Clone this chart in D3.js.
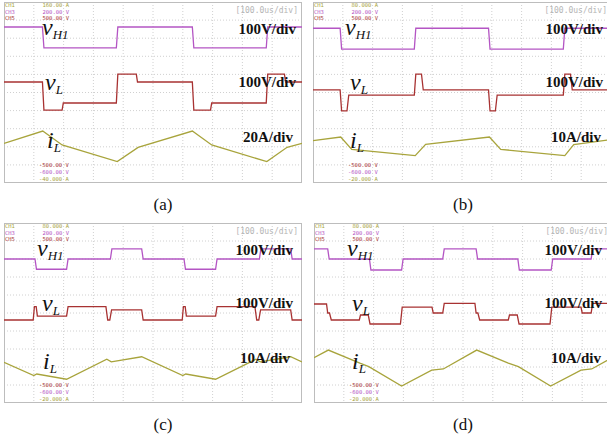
<!DOCTYPE html>
<html>
<head>
<meta charset="utf-8">
<script src="https://cdn.jsdelivr.net/npm/d3@7"></script>
<style>
  body { margin: 0; background: #fff; }
  #chart { width: 607px; height: 440px; }
</style>
</head>
<body>
<div id="chart"></div>
<script>

// waveforms: [time in us, level in divisions from bottom of screen]
const vH1A = [[0,8.62],[129,8.62],[134,7.46],[377,7.46],[382,8.62],[632,8.62],[637,7.46],[880,7.46],[885,8.62],[1000,8.62]]
const vLA = [[0,5.58],[129,5.58],[134,4.03],[195,4.03],[199,4.42],[377,4.42],[382,6.02],[444,6.02],[448,5.58],[632,5.58],[637,4.03],[693,4.03],[697,4.42],[880,4.42],[885,6.02],[941,6.02],[945,5.58],[1000,5.58]]
const iLA = [[0,2.19],[130,2.87],[195,2.10],[380,1.18],[450,1.97],[632,2.87],[697,2.10],[882,1.18],[950,1.97],[1000,2.19]]

const vH1B = [[0,8.55],[91,8.55],[96,7.40],[340,7.40],[345,8.55],[589,8.55],[594,7.40],[840,7.40],[845,8.55],[1000,8.55]]
const vLB = [[0,5.14],[91,5.14],[96,3.98],[114,3.98],[120,4.86],[340,4.86],[345,6.02],[364,6.02],[370,5.14],[589,5.14],[594,3.98],[612,3.98],[618,4.86],[840,4.86],[845,6.02],[864,6.02],[870,5.14],[1000,5.14]]
const iLB = [[0,2.34],[93,2.54],[130,1.86],[343,1.51],[378,2.14],[592,2.54],[630,1.86],[845,1.51],[875,2.12],[1000,2.40]]

const vH1C = [[0,8.0],[104,8.0],[109,7.43],[210,7.43],[215,8.0],[357,8.0],[362,8.56],[462,8.56],[467,8.0],[604,8.0],[609,7.43],[710,7.43],[715,8.0],[857,8.0],[862,8.56],[962,8.56],[967,8.0],[1000,8.0]]
const vLC = [[0,4.61],[98,4.61],[102,5.35],[108,5.35],[112,4.83],[210,4.83],[215,5.35],[342,5.35],[348,4.61],[355,4.61],[361,5.17],[462,5.17],[467,4.61],[598,4.61],[602,5.35],[608,5.35],[612,4.83],[710,4.83],[715,5.35],[842,5.35],[848,4.61],[855,4.61],[861,5.17],[962,5.17],[967,4.61],[1000,4.61]]
const iLC = [[0,2.26],[100,1.52],[110,1.61],[210,1.32],[345,2.43],[360,2.29],[462,2.57],[600,1.52],[610,1.61],[710,1.32],[845,2.43],[860,2.29],[962,2.57],[1000,2.28]]

const vH1D = [[0,8.56],[46,8.56],[51,8.0],[186,8.0],[191,7.39],[294,7.39],[299,8.0],[432,8.0],[437,8.56],[544,8.56],[549,8.0],[684,8.0],[689,7.39],[796,7.39],[801,8.0],[930,8.0],[935,8.56],[1000,8.56]]
const vLD = [[0,5.5],[42,5.5],[46,5.0],[52,5.0],[58,4.61],[152,4.61],[156,4.89],[182,4.89],[188,4.39],[290,4.39],[296,5.33],[396,5.33],[400,5.0],[432,5.0],[437,5.53],[540,5.53],[544,5.0],[550,5.0],[556,4.61],[652,4.61],[656,4.89],[682,4.89],[688,4.39],[792,4.39],[798,5.33],[896,5.33],[900,5.0],[930,5.0],[935,5.53],[1000,5.53]]
const iLD = [[0,2.52],[48,2.94],[154,2.21],[184,2.02],[294,0.94],[395,1.83],[434,1.89],[546,2.94],[652,2.21],[686,2.02],[794,0.94],[896,1.83],[932,1.89],[1000,2.52]]

const captions = ["(a)", "(b)", "(c)", "(d)"]
const channelNames = ["CH1", "CH3", "CH5"]
const topReadA = ["160.00 A", "200.00 V", "500.00 V"]
const topReadBCD = ["80.000 A", "200.00 V", "500.00 V"]
const bottomReadA = ["-500.00 V", "-600.00 V", "-40.000 A"]
const bottomReadBCD = ["-500.00 V", "-600.00 V", "-20.000 A"]
const scaleA = ["100V/div", "100V/div", "20A/div"]
const scaleBCD = ["100V/div", "100V/div", "10A/div"]
const timeBase = "[100.0us/div]"

const colors = { ch1: "#a8a43c", ch3: "#b455c4", ch5: "#a83232" }

const panels = [
    { x: 4, y: 2, w: 298, h: 181, vH1: vH1A, vL: vLA, iL: iLA, top: topReadA, bottom: bottomReadA, scale: scaleA, lx: [38, 41, 43], sr: [6, 6, 9] },
    { x: 313, y: 2, w: 298, h: 181, vH1: vH1B, vL: vLB, iL: iLB, top: topReadBCD, bottom: bottomReadBCD, scale: scaleBCD, lx: [32, 37, 37], sr: [8, 8, 10] },
    { x: 4, y: 223, w: 298, h: 180, vH1: vH1C, vL: vLC, iL: iLC, top: topReadBCD, bottom: bottomReadBCD, scale: scaleBCD, lx: [33, 38, 39], sr: [9, 9, 12] },
    { x: 314, y: 223, w: 298, h: 180, vH1: vH1D, vL: vLD, iL: iLD, top: topReadBCD, bottom: bottomReadBCD, scale: scaleBCD, lx: [33, 38, 38], sr: [10, 10, 11] }
]

const svg = d3.select("#chart").append("svg")
    .attr("width", 607)
    .attr("height", 440)

panels.forEach((p, i) => {

    const x = d3.scaleLinear().domain([0, 1000]).range([p.x, p.x + p.w])
    const y = d3.scaleLinear().domain([0, 10]).range([p.y + p.h, p.y])

    const clipId = "clip" + i
    svg.append("clipPath").attr("id", clipId)
        .append("rect")
        .attr("x", p.x).attr("y", p.y)
        .attr("width", p.w).attr("height", p.h)

    const g = svg.append("g").attr("clip-path", `url(#${clipId})`)

    // grid
    g.selectAll(".vgrid")
        .data(d3.range(100, 1000, 100))
        .enter().append("line")
        .attr("x1", d => x(d)).attr("x2", d => x(d))
        .attr("y1", p.y).attr("y2", p.y + p.h)
        .attr("stroke", "#c4c4c4").attr("stroke-width", 0.8)
        .attr("stroke-dasharray", "1,2")

    g.selectAll(".hgrid")
        .data(d3.range(1, 10))
        .enter().append("line")
        .attr("x1", p.x).attr("x2", p.x + p.w)
        .attr("y1", d => y(d)).attr("y2", d => y(d))
        .attr("stroke", "#c4c4c4").attr("stroke-width", 0.8)
        .attr("stroke-dasharray", "1,2")

    g.append("rect")
        .attr("x", p.x + 0.5).attr("y", p.y + 0.5)
        .attr("width", p.w - 1).attr("height", p.h - 1)
        .attr("fill", "none").attr("stroke", "#bdbdbd")

    const line = d3.line().x(d => x(d[0])).y(d => y(d[1]))

    g.append("path").datum(p.vH1).attr("d", line)
        .attr("fill", "none").attr("stroke", colors.ch3).attr("stroke-width", 1.3)
    g.append("path").datum(p.vL).attr("d", line)
        .attr("fill", "none").attr("stroke", colors.ch5).attr("stroke-width", 1.3)
    g.append("path").datum(p.iL).attr("d", line)
        .attr("fill", "none").attr("stroke", colors.ch1).attr("stroke-width", 1.3)

    // scope readouts
    const readColors = [colors.ch1, colors.ch3, colors.ch5]
    channelNames.forEach((c, k) => {
        g.append("text")
            .attr("x", p.x + 1).attr("y", p.y + 5 + k * 6.6)
            .style("font-family", "DejaVu Sans Mono").style("font-size", "5.5px")
            .style("fill", readColors[k])
            .text(c)
        g.append("text")
            .attr("x", p.x + 65).attr("y", p.y + 5 + k * 6.6)
            .attr("text-anchor", "end")
            .style("font-family", "DejaVu Sans Mono").style("font-size", "5.5px")
            .style("fill", readColors[k])
            .text(p.top[k])
    })
    const bottomColors = [colors.ch5, colors.ch3, colors.ch1]
    p.bottom.forEach((t, k) => {
        g.append("text")
            .attr("x", p.x + 35).attr("y", p.y + p.h - 16 + k * 6.8)
            .style("font-family", "DejaVu Sans Mono").style("font-size", "5.5px")
            .style("fill", bottomColors[k])
            .text(t)
    })

    g.append("text")
        .attr("x", p.x + p.w - 4).attr("y", p.y + 11)
        .attr("text-anchor", "end")
        .style("font-family", "DejaVu Sans Mono").style("font-size", "8px")
        .style("fill", "#b5b5b5")
        .text(timeBase)

    // signal names
    const names = [["v", "H1"], ["v", "L"], ["i", "L"]]
    const nameY = [33, 88, 146]
    names.forEach((n, k) => {
        const t = svg.append("text")
            .attr("x", p.x + p.lx[k]).attr("y", p.y + nameY[k])
            .style("font-family", "Liberation Serif").style("font-style", "italic")
            .style("font-size", "24px").style("fill", "#111")
        t.append("tspan").text(n[0])
        t.append("tspan").attr("dy", 4).style("font-size", "13px").text(n[1])
    })

    const scaleY = [32, 85, 140]
    p.scale.forEach((s, k) => {
        svg.append("text")
            .attr("x", p.x + p.w - p.sr[k]).attr("y", p.y + scaleY[k])
            .attr("text-anchor", "end")
            .style("font-family", "Liberation Serif").style("font-weight", "bold")
            .style("font-size", "15px").style("fill", "#111")
            .text(s)
    })

    svg.append("text")
        .attr("x", i % 2 === 0 ? 163 : 463)
        .attr("y", p.y + p.h + 27)
        .attr("text-anchor", "middle")
        .style("font-family", "Liberation Serif")
        .style("font-size", "17px").style("fill", "#111")
        .text(captions[i])
})

</script>
</body>
</html>
